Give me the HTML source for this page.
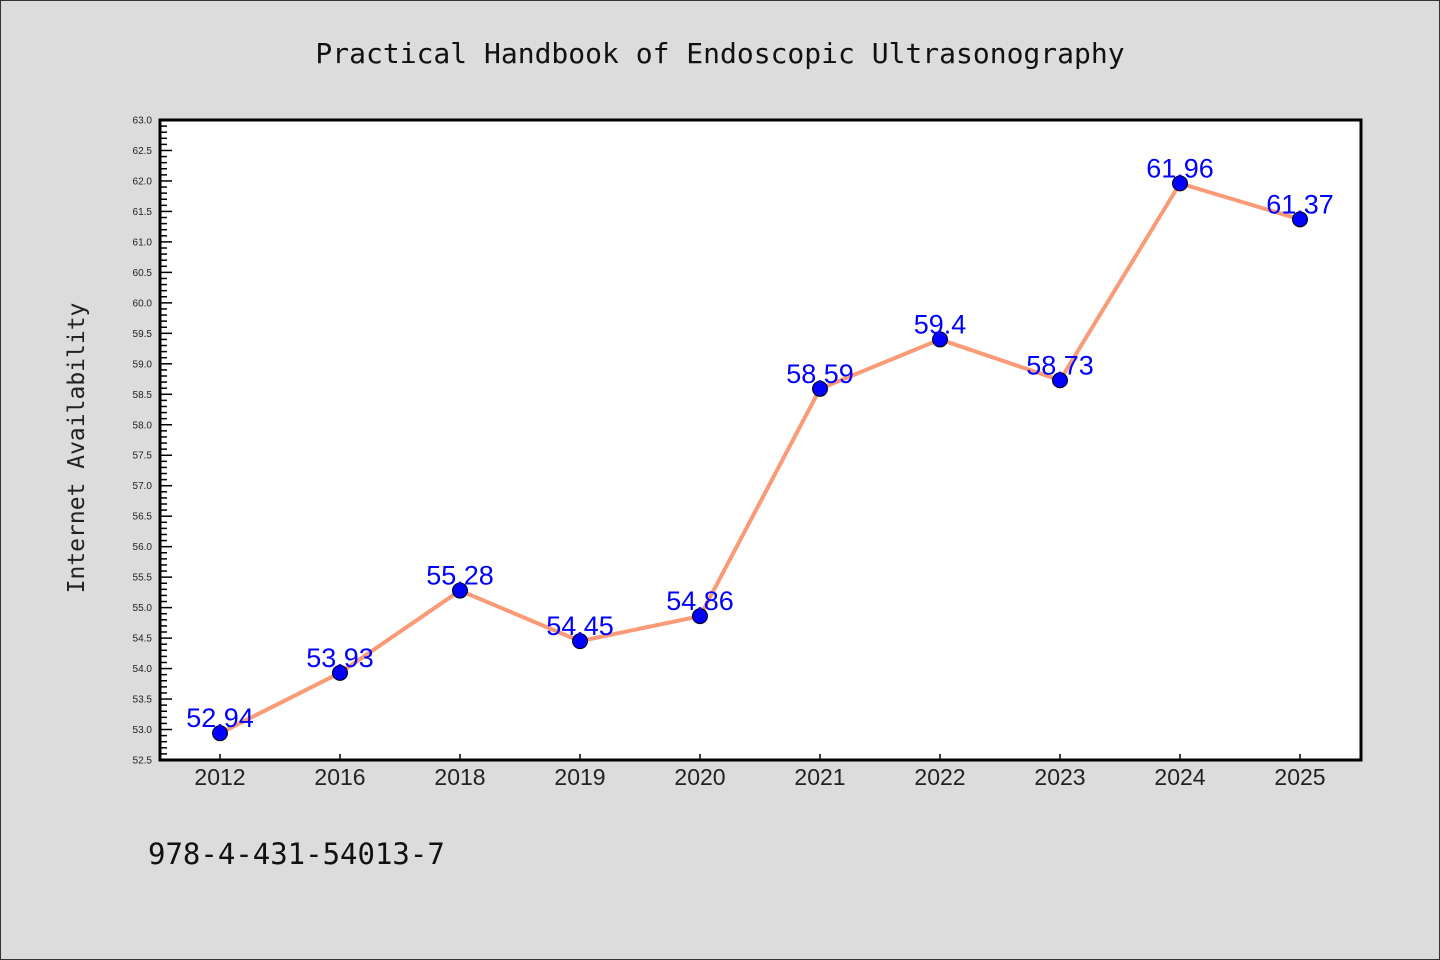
<!DOCTYPE html>
<html><head><meta charset="utf-8"><style>
body{margin:0;background:#dcdcdc;}
svg{display:block;font-family:"Liberation Sans","DejaVu Sans",sans-serif;}
</style></head><body>
<svg id="chart" width="1440" height="960" viewBox="0 0 1440 960">
<rect x="0.5" y="0.5" width="1439" height="959" fill="#dcdcdc" stroke="#333" stroke-width="1"/>
<text x="720" y="63" text-anchor="middle" font-family="'DejaVu Sans Mono','Liberation Mono',monospace" font-size="28" fill="#111">Practical Handbook of Endoscopic Ultrasonography</text>
<rect x="160" y="120" width="1201" height="640" fill="#fff"/>
<g id="yaxis"></g>
<g id="xaxis"></g>
<g id="series"></g>
<rect x="160" y="120" width="1201" height="640" fill="none" stroke="#000" stroke-width="3"/>
<text transform="translate(84,448) rotate(-90)" text-anchor="middle" font-family="'DejaVu Sans Mono','Liberation Mono',monospace" font-size="23" fill="#222">Internet Availability</text>
<text x="148" y="864" font-family="'DejaVu Sans Mono','Liberation Mono',monospace" font-size="29" fill="#111">978-4-431-54013-7</text>
</svg>
<script>
const categories=["2012","2016","2018","2019","2020","2021","2022","2023","2024","2025"];
const values=[52.94,53.93,55.28,54.45,54.86,58.59,59.4,58.73,61.96,61.37];
const valueLabels=["52.94","53.93","55.28","54.45","54.86","58.59","59.4","58.73","61.96","61.37"];
const yMin=52.5,yMax=63.0;
const NS="http://www.w3.org/2000/svg";
const L=160,R=1361,T=120,B=760;
function y(v){return B-(v-yMin)/(yMax-yMin)*(B-T);}
function x(i){return 220+i*120;}
function mk(t,a,p){const e=document.createElementNS(NS,t);for(const k in a)e.setAttribute(k,a[k]);p.appendChild(e);return e;}
const ya=document.getElementById('yaxis');
for(let k=0;k<=105;k++){
  const v=yMin+k*0.1;const yy=y(v);const major=k%5===0;
  const tk=mk('line',{x1:L,x2:L+(major?12:7),y1:yy,y2:yy,stroke:'#000','stroke-width':1.5},ya);
  
  
  if(major){
    const t=mk('text',{x:L-8,y:yy+3.5,'text-anchor':'end','font-size':10,fill:'#222'},ya);
    
    
    t.textContent=v.toFixed(1);
  }
}
const xa=document.getElementById('xaxis');
categories.forEach((c,i)=>{
  const tk=mk('line',{x1:x(i),x2:x(i),y1:B,y2:B-6,stroke:'#000','stroke-width':1.5},xa);
  
  
  const t=mk('text',{x:x(i),y:B+25,'text-anchor':'middle','font-size':23,fill:'#222'},xa);
  
  
  t.textContent=c;
});
const s=document.getElementById('series');
const pl=mk('polyline',{points:values.map((v,i)=>x(i)+','+y(v)).join(' '),fill:'none',stroke:'#fa9a76','stroke-width':4,'stroke-linejoin':'round'},s);


values.forEach((v,i)=>{
  const c=mk('circle',{cx:x(i),cy:y(v),r:7.5,fill:'#0000ff',stroke:'#000','stroke-width':1},s);
  
  
  const t=mk('text',{x:x(i),y:y(v)-6,'text-anchor':'middle','font-size':27,fill:'#0000ff'},s);
  
  
  t.textContent=valueLabels[i];
});
</script>
</body></html>
